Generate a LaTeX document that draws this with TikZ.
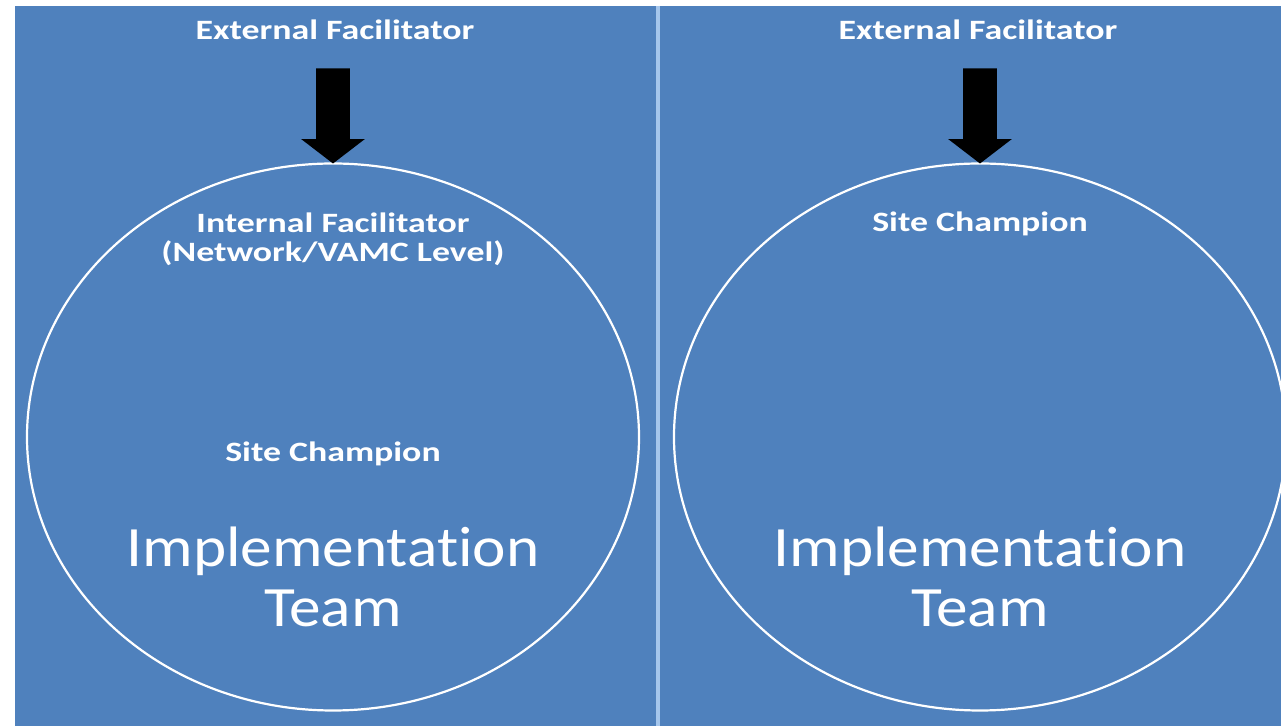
\documentclass[tikz,border=0pt]{standalone}
\usepackage{fontspec}
\setmainfont{Carlito}[Ligatures={NoCommon,NoContextual}]
\usetikzlibrary{positioning,shapes.geometric,shapes.arrows}
\definecolor{slideblue}{RGB}{79,129,189}
\definecolor{divider}{RGB}{165,198,236}

\begin{document}
\begin{tikzpicture}[
		x=0.5pt, y=-0.5pt,
		every node/.style = {
			text=white,
			inner sep=0pt, outer sep=0pt
		},
		team/.style = {draw=white, line width=1.1pt, ellipse, minimum width=306pt, minimum height=273.5pt},
		lbl/.style = {font=\fontsize{14}{17}\bfseries\selectfont, xscale=1.28, anchor=base},
		big/.style = {font=\fontsize{28.5}{30}\selectfont, xscale=1.11, anchor=base},
		downarrow/.style = {
			single arrow, fill=black, rotate=-90, anchor=tip,
			minimum height=47.5pt, inner xsep=0pt, inner ysep=8.25pt,
			single arrow head extend=7.5pt, single arrow tip angle=105
		}
		]
		\useasboundingbox (0,0) rectangle (1281,726);
		\fill[slideblue] (15,6) rectangle (1281,726);
		\draw[divider, line width=2pt] (658,6) -- (658,726);

		\node[team] (ellL) at (333,437) {};
		\node[team] (ellR) at (980,437) {};
		\node[downarrow] (arrL) at (ellL.north) {};
		\node[downarrow] (arrR) at (ellR.north) {};

		\node[lbl] (extL) at (335,40) {External Facilitator};
		\node[lbl] (extR) at (978,40) {External Facilitator};

		\node[lbl] (intL) at (333,233) {Internal Facilitator};
		\node[lbl] (netL) at ([yshift=-14.5pt]intL.base) {(Network/VAMC Level)};
		\node[lbl] (champL) at (333,462) {Site Champion};
		\node[big] (implL) at (333,567) {Implementation};
		\node[big] (teamL) at ([yshift=-30pt]implL.base) {Team};

		\node[lbl] (champR) at (980,232) {Site Champion};
		\node[big] (implR) at (980,567) {Implementation};
		\node[big] (teamR) at ([yshift=-30pt]implR.base) {Team};
	\end{tikzpicture}
\end{document}
